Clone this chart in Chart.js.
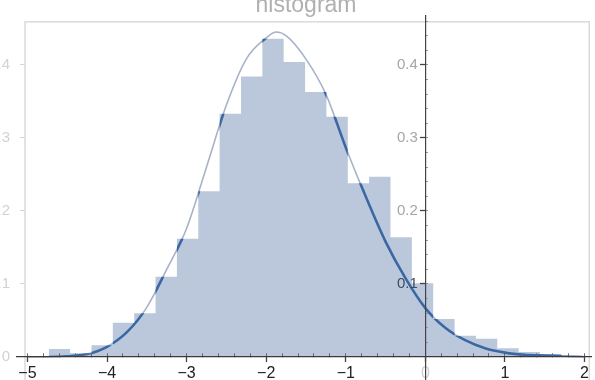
<!DOCTYPE html>
<html>
<head>
<meta charset="utf-8">
<script src="https://cdn.jsdelivr.net/npm/chart.js@4.4.1/dist/chart.umd.min.js"></script>
<style>
  html, body { margin: 0; padding: 0; background: #fff; overflow: hidden; }
  #wrap { position: absolute; left: 0; top: 0; width: 600px; height: 420px; }
</style>
</head>
<body>
<div id="wrap"><canvas id="histChart"></canvas></div>
<script>
// histogram: bin edges (26) and bar heights (25)
const BIN_EDGES = [
  -4.732, -4.464, -4.195, -3.927, -3.658, -3.390, -3.122, -2.853, -2.585,
  -2.316, -2.048, -1.780, -1.511, -1.243, -0.974, -0.706, -0.438, -0.169,
  0.099, 0.368, 0.636, 0.904, 1.173, 1.441, 1.710, 1.978
];
const BIN_HEIGHTS = [
  0.011, 0.005, 0.016, 0.047, 0.060, 0.110, 0.162, 0.227, 0.333, 0.384,
  0.436, 0.404, 0.363, 0.329, 0.238, 0.247, 0.164, 0.101, 0.052, 0.029,
  0.025, 0.012, 0.007, 0.004, 0.002
];

// density curve
const CURVE_X = [
  -5.0, -4.75, -4.5, -4.25, -4.0, -3.75, -3.5, -3.25, -3.0, -2.75, -2.5,
  -2.25, -2.0, -1.875, -1.75, -1.5, -1.25, -1.0, -0.75, -0.5, -0.25, 0.0,
  0.25, 0.5, 0.75, 1.0, 1.25, 1.5, 1.75, 2.0
];
const CURVE_Y = [
  0.000, 0.000, 0.001, 0.004, 0.014, 0.034, 0.068, 0.120, 0.176, 0.260, 0.345,
  0.408, 0.437, 0.445, 0.440, 0.408, 0.360, 0.287, 0.220, 0.158, 0.108, 0.067,
  0.040, 0.023, 0.012, 0.006, 0.003, 0.002, 0.001, 0.000
];

// tick labels
const X_LABELS = [-5, -4, -3, -2, -1, 0, 1, 2];
const Y_LABELS = [0.1, 0.2, 0.3, 0.4];
const FRAME_LABELS = [0, 0.1, 0.2, 0.3, 0.4];

const X_RANGE = [-5.131, 2.085];
const Y_RANGE = [-0.0589, 0.467];
const FRAME_X = [-5.03, 2.06];
const FRAME_TOP = 0.459;
const X_MINOR = 0.2;
const Y_MINOR = 0.02;

const FONT = "'Liberation Sans', Arial, sans-serif";

const near = (a, b) => Math.abs(a - b) < 1e-6;

// minor tick positions between two bounds
function minorTicks(from, to, step) {
  const out = [];
  for (let k = Math.ceil(from / step - 1e-6); k * step <= to + 1e-6; k++) {
    out.push({ value: Math.round(k * step * 1000) / 1000 });
  }
  return out;
}

// histogram as a filled step outline (last edge repeats the last height)
const histPoints = BIN_EDGES.map((x, i) => ({
  x,
  y: BIN_HEIGHTS[Math.min(i, BIN_HEIGHTS.length - 1)],
}));
const curvePoints = CURVE_X.map((x, i) => ({ x, y: CURVE_Y[i] }));

// dark curve only shows over the bars, light one only over white
const blendPlugin = {
  id: 'blend',
  beforeDatasetDraw(chart, args) {
    const mode = chart.data.datasets[args.index].blend;
    if (!mode) return;
    chart.ctx.save();
    chart.ctx.globalCompositeOperation = mode;
  },
  afterDatasetDraw(chart, args) {
    if (chart.data.datasets[args.index].blend) chart.ctx.restore();
  },
};

const framePlugin = {
  id: 'frame',
  beforeDatasetsDraw(chart) {
    const { ctx, scales, chartArea } = chart;
    const left = scales.x.getPixelForValue(FRAME_X[0]);
    const right = scales.x.getPixelForValue(FRAME_X[1]);
    const top = scales.y.getPixelForValue(FRAME_TOP);
    ctx.save();
    ctx.strokeStyle = '#dadada';
    ctx.lineWidth = 1.5;
    ctx.strokeRect(left, top, right - left, chartArea.bottom + 10 - top);
    ctx.restore();
  },
};

// axis through the origin that only carries the major tick marks
const majorAxis = (pos, values, length) => ({
  type: 'linear',
  min: pos.y !== undefined ? X_RANGE[0] : Y_RANGE[0],
  max: pos.y !== undefined ? X_RANGE[1] : Y_RANGE[1],
  position: pos,
  afterBuildTicks: (axis) => {
    axis.ticks = values.map((v) => ({ value: v }));
  },
  grid: { z: 1, drawOnChartArea: false, tickLength: length, tickColor: '#444', tickWidth: 1.3 },
  border: { display: false },
  ticks: { display: false },
});

new Chart(document.getElementById('histChart'), {
  type: 'line',
  data: {
    datasets: [
      {
        data: histPoints,
        stepped: 'before',
        fill: 'origin',
        backgroundColor: '#bbc8dc',
        borderColor: 'transparent',
        borderWidth: 0,
        pointRadius: 0,
        order: 3,
      },
      {
        data: curvePoints,
        blend: 'source-atop',
        borderColor: '#3b68a3',
        borderWidth: 2.6,
        cubicInterpolationMode: 'monotone',
        pointRadius: 0,
        fill: false,
        order: 2,
      },
      {
        data: curvePoints,
        blend: 'destination-over',
        borderColor: '#a7b2c8',
        borderWidth: 1.6,
        cubicInterpolationMode: 'monotone',
        pointRadius: 0,
        fill: false,
        order: 1,
      },
    ],
  },
  options: {
    responsive: true,
    maintainAspectRatio: false,
    animation: false,
    events: [],
    layout: { padding: { left: 17, right: 5, top: 0, bottom: 20 } },
    plugins: {
      legend: { display: false },
      tooltip: { enabled: false },
      title: {
        display: true,
        text: 'histogram',
        color: '#b0b0b0',
        font: { family: FONT, size: 23, weight: 'normal', lineHeight: 0.5 },
        padding: { top: 0, bottom: 4.5 },
      },
    },
    scales: {
      x: {
        type: 'linear',
        min: X_RANGE[0],
        max: X_RANGE[1],
        position: { y: 0 },
        afterBuildTicks: (axis) => {
          axis.ticks = minorTicks(X_LABELS[0], X_LABELS[X_LABELS.length - 1], X_MINOR);
        },
        // negative length: minor marks point up into the plot
        grid: { z: 1, drawOnChartArea: false, tickLength: -4, tickColor: '#666', tickWidth: 1 },
        border: { z: 1, color: '#3a3a3a', width: 1.3 },
        ticks: {
          z: 1,
          autoSkip: false,
          maxRotation: 0,
          padding: 11,
          font: { family: FONT, size: 16 },
          color: (c) => (near(c.tick.value, 0) ? '#d0d0d0' : '#222'),
          callback: (v) => {
            const lab = X_LABELS.find((l) => near(l, v));
            if (lab === undefined) return '';
            return lab < 0 ? '\u2212' + Math.abs(lab) : String(lab);
          },
        },
      },
      xMajor: majorAxis({ y: 0 }, X_LABELS, 5),
      y: {
        type: 'linear',
        min: Y_RANGE[0],
        max: Y_RANGE[1],
        position: { x: 0 },
        afterBuildTicks: (axis) => {
          axis.ticks = minorTicks(Y_MINOR, 0.46, Y_MINOR);
        },
        grid: { z: 1, drawOnChartArea: false, tickLength: -3, tickColor: '#999', tickWidth: 1 },
        border: { z: 1, color: '#444', width: 1.2 },
        ticks: {
          z: 1,
          autoSkip: false,
          font: { family: FONT, size: 15, lineHeight: 1 },
          color: (c) => (near(c.tick.value, 0.1) ? '#3e4c62' : '#a6a6a6'),
          // axis at a value: labels end on the axis, so pad them with en spaces
          callback: (v) => {
            const lab = Y_LABELS.find((l) => near(l, v));
            return lab === undefined ? '' : lab.toFixed(1) + '\u2002';
          },
        },
      },
      yMajor: majorAxis({ x: 0 }, Y_LABELS, 5),
      yFrame: {
        type: 'linear',
        axis: 'y',
        min: Y_RANGE[0],
        max: Y_RANGE[1],
        position: { x: FRAME_X[0] },
        afterBuildTicks: (axis) => {
          axis.ticks = FRAME_LABELS.map((v) => ({ value: v }));
        },
        grid: { drawOnChartArea: false, tickLength: 5, tickColor: '#d6d6d6' },
        border: { display: false },
        ticks: {
          autoSkip: false,
          font: { family: FONT, size: 15, lineHeight: 0.8 },
          color: '#d2d2d2',
          callback: (v) => (near(v, 0) ? '0' : v.toFixed(1)) + '\u2002\u2002',
        },
      },
    },
  },
  plugins: [blendPlugin, framePlugin],
});
</script>
</body>
</html>
